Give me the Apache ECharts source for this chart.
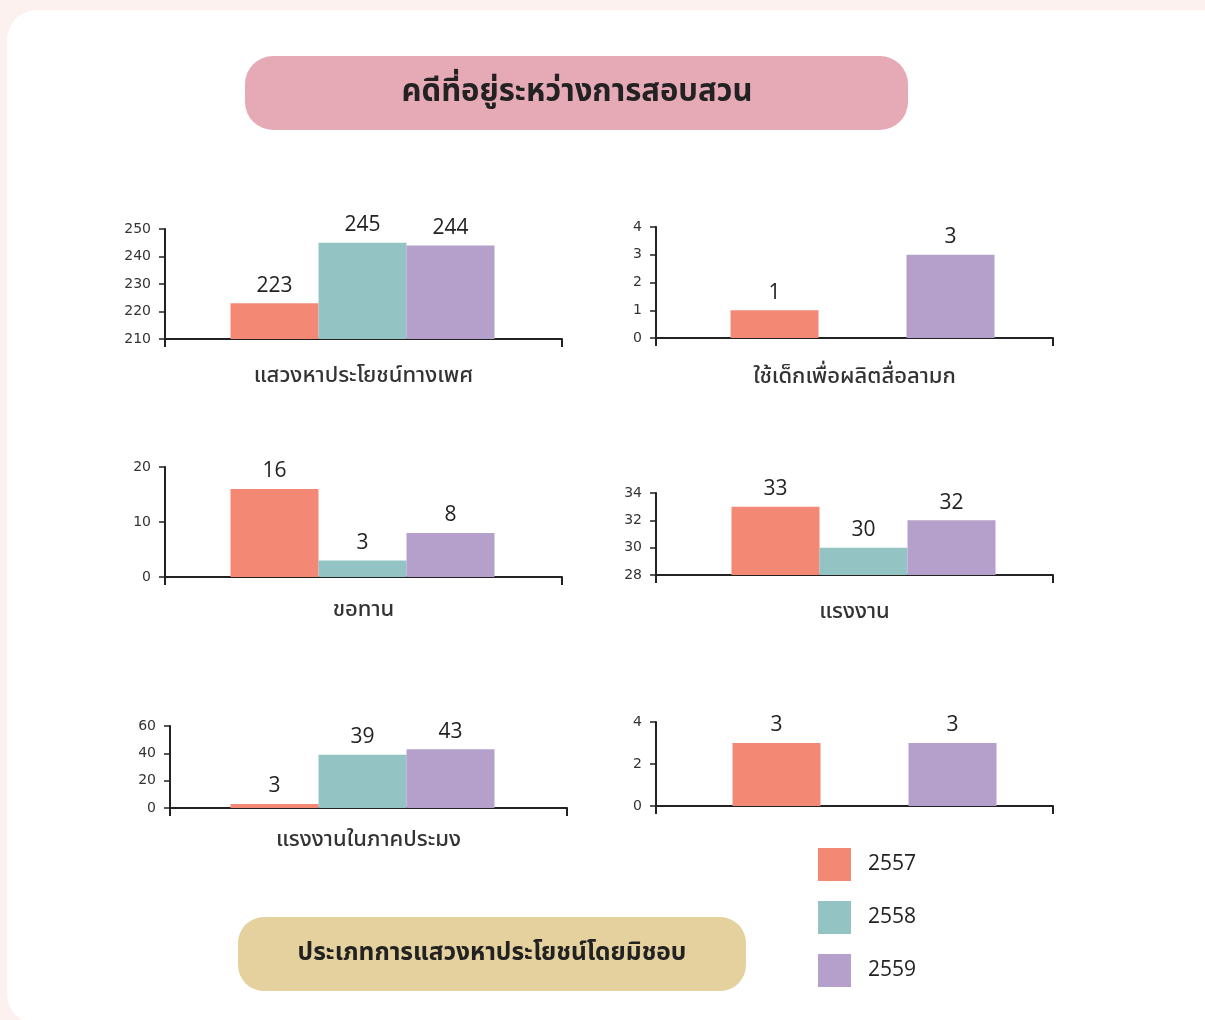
<!DOCTYPE html>
<html>
<head>
<meta charset="utf-8">
<style>
  html, body { margin: 0; padding: 0; background: #fcf1ee; }
  #chart { width: 1205px; height: 1020px; }
</style>
<script src="https://cdn.jsdelivr.net/npm/echarts@6/dist/echarts.min.js"></script>
</head>
<body>
<div id="chart"></div>
<script>
const years = ["2557", "2558", "2559"];
const categories = [
    "แสวงหาประโยชน์ทางเพศ",
    "ใช้เด็กเพื่อผลิตสื่อลามก",
    "ขอทาน",
    "แรงงาน",
    "แรงงานในภาคประมง",
    "",
];
const values2557 = [223, 1, 16, 33, 3, 3];
const values2558 = [245, "-", 3, 30, 39, "-"];
const values2559 = [244, 3, 8, 32, 43, 3];
const yMin = [210, 0, 0, 28, 0, 0];
const yMax = [250, 4, 20, 34, 60, 4];
const yStep = [10, 1, 10, 2, 20, 2];

const colors = ["#f38874", "#94c3c4", "#b5a0cb"];
const thai = "'Noto Sans Thai', 'Noto Sans', sans-serif";

// grid boxes: left, top, height, label margin, bar group shift (px)
const boxes = [
    [165, 229, 110, 28, -1],
    [656, 227, 111, 30, 8],
    [165, 467, 110, 24, -1],
    [656, 493, 82, 28, 9],
    [170, 726, 82, 23, -6],
    [656, 722, 84, 20, 10],
];

const grid = [];
const xAxis = [];
const yAxis = [];
const series = [];
const allValues = [values2557, values2558, values2559];

// empty spacer bar, only nudges the group sideways
const spacer = (i, w) => ({
    type: "bar",
    xAxisIndex: i,
    yAxisIndex: i,
    barWidth: w,
    barGap: "0%",
    silent: true,
    data: ["-"],
});

boxes.forEach((b, i) => {
    grid.push({ left: b[0], top: b[1], width: 397, height: b[2] });
    xAxis.push({
        type: "category",
        gridIndex: i,
        data: [categories[i]],
        axisLine: { lineStyle: { color: "#222", width: 2 } },
        axisTick: { show: true, length: 8, lineStyle: { color: "#222", width: 2 } },
        axisLabel: {
            margin: b[3],
            fontSize: 22,
            color: "#333",
            fontFamily: thai,
            fontWeight: 500,
        },
    });
    yAxis.push({
        type: "value",
        gridIndex: i,
        min: yMin[i],
        max: yMax[i],
        interval: yStep[i],
        splitLine: { show: false },
        axisLine: { show: true, lineStyle: { color: "#222", width: 2 } },
        axisTick: { show: true, length: 6, lineStyle: { color: "#222", width: 1.5 } },
        axisLabel: {
            margin: 14,
            fontSize: 14,
            color: "#333",
            fontFamily: "DejaVu Sans",
        },
    });
    const shift = b[4];
    if (shift > 0) series.push(spacer(i, shift * 2));
    years.forEach((y, k) => {
        series.push({
            name: y,
            type: "bar",
            xAxisIndex: i,
            yAxisIndex: i,
            barWidth: 88,
            barGap: "0%",
            itemStyle: { color: colors[k] },
            label: {
                show: true,
                position: "top",
                distance: 7,
                fontSize: 21,
                color: "#222",
                fontFamily: "'Open Sans', sans-serif",
            },
            data: [allValues[k][i]],
        });
    });
    if (shift < 0) series.push(spacer(i, -shift * 2));
});

const option = {
    animation: false,
    color: colors,
    grid: grid,
    xAxis: xAxis,
    yAxis: yAxis,
    series: series,
    legend: {
        data: years,
        orient: "vertical",
        left: 813,
        top: 843,
        itemWidth: 33,
        itemHeight: 33,
        itemGap: 20,
        icon: "rect",
        textStyle: {
            fontSize: 21,
            color: "#222",
            fontFamily: "'Open Sans', sans-serif",
            padding: [0, 0, 0, 12],
        },
    },
    graphic: [
        {
            type: "rect",
            z: -10,
            shape: { x: 7, y: 10, width: 1240, height: 1014, r: 30 },
            style: { fill: "#ffffff" },
        },
        {
            type: "rect",
            z: -5,
            shape: { x: 245, y: 56, width: 663, height: 74, r: 28 },
            style: { fill: "#e6a9b6" },
        },
        {
            type: "text",
            position: [577, 95],
            style: {
                text: "คดีที่อยู่ระหว่างการสอบสวน",
                fontSize: 31,
                fontWeight: "bold",
                fill: "#222",
                fontFamily: thai,
                align: "center",
                verticalAlign: "middle",
            },
        },
        {
            type: "rect",
            z: -5,
            shape: { x: 238, y: 917, width: 508, height: 74, r: 26 },
            style: { fill: "#e5d19e" },
        },
        {
            type: "text",
            position: [492, 955],
            style: {
                text: "ประเภทการแสวงหาประโยชน์โดยมิชอบ",
                fontSize: 24.5,
                fontWeight: "bold",
                fill: "#222",
                fontFamily: thai,
                align: "center",
                verticalAlign: "middle",
            },
        },
    ],
};

const chart = echarts.init(document.getElementById("chart"));
chart.setOption(option);
</script>
</body>
</html>
